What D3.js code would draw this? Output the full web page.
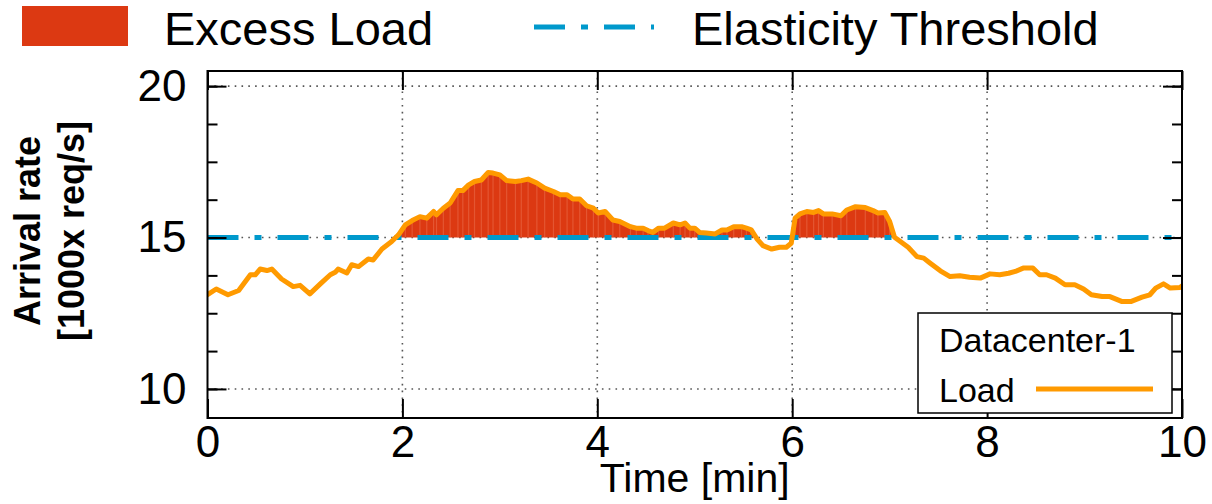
<!DOCTYPE html>
<html>
<head>
<meta charset="utf-8">
<script src="https://cdn.jsdelivr.net/npm/d3@7"></script>
<style>
  html, body { margin: 0; padding: 0; background: #fff; }
  svg { display: block; font-family: "Liberation Sans", Arial, sans-serif; }
</style>
</head>
<body>
<script>
// time in minutes and arrival rate (1000x req/s)
const time = [0, 0.09, 0.21, 0.32, 0.44, 0.49, 0.54, 0.61, 0.66, 0.76,
  0.88, 0.95, 1.05, 1.155, 1.26, 1.31, 1.34, 1.43, 1.48, 1.55,
  1.65, 1.70, 1.79, 1.89, 1.96, 2.03, 2.10, 2.18, 2.25, 2.32,
  2.35, 2.42, 2.49, 2.57, 2.62, 2.68, 2.74, 2.81, 2.88, 2.93,
  3.00, 3.07, 3.16, 3.22, 3.29, 3.38, 3.46, 3.55, 3.62, 3.69,
  3.75, 3.82, 3.89, 3.96, 4.01, 4.08, 4.16, 4.23, 4.34, 4.40,
  4.47, 4.52, 4.57, 4.63, 4.69, 4.78, 4.85, 4.90, 4.95, 5.00,
  5.05, 5.12, 5.21, 5.28, 5.33, 5.40, 5.48, 5.53, 5.58, 5.64,
  5.70, 5.79, 5.87, 5.94, 5.99, 6.03, 6.08, 6.15, 6.22, 6.27,
  6.32, 6.41, 6.50, 6.56, 6.65, 6.75, 6.83, 6.88, 6.95, 7.00,
  7.05, 7.11, 7.19, 7.28, 7.35, 7.41, 7.52, 7.62, 7.72, 7.82,
  7.93, 8.03, 8.13, 8.22, 8.29, 8.37, 8.47, 8.54, 8.61, 8.70,
  8.80, 8.90, 8.99, 9.07, 9.18, 9.26, 9.38, 9.48, 9.59, 9.67,
  9.73, 9.81, 9.88, 9.98, 10.0];
const load = [13.11, 13.30, 13.11, 13.25, 13.77, 13.77, 13.96, 13.91, 13.96, 13.63,
  13.38, 13.42, 13.14, 13.46, 13.77, 13.85, 13.96, 13.83, 14.10, 14.04,
  14.29, 14.26, 14.62, 14.87, 15.09, 15.42, 15.56, 15.69, 15.64, 15.86,
  15.75, 15.97, 16.14, 16.55, 16.55, 16.74, 16.85, 16.90, 17.15, 17.13,
  17.07, 16.88, 16.85, 16.88, 16.93, 16.80, 16.63, 16.52, 16.41, 16.41,
  16.27, 16.27, 16.05, 15.97, 15.81, 15.86, 15.58, 15.53, 15.36, 15.31,
  15.31, 15.23, 15.17, 15.31, 15.31, 15.48, 15.42, 15.48, 15.31, 15.31,
  15.17, 15.15, 15.12, 15.25, 15.25, 15.36, 15.36, 15.31, 15.25, 14.95,
  14.73, 14.62, 14.68, 14.68, 14.81, 15.64, 15.78, 15.86, 15.83, 15.89,
  15.78, 15.78, 15.72, 15.91, 16.02, 15.99, 15.89, 15.81, 15.83, 15.53,
  15.01, 14.87, 14.68, 14.37, 14.32, 14.17, 13.90, 13.71, 13.74, 13.69,
  13.66, 13.80, 13.77, 13.82, 13.88, 13.99, 13.99, 13.77, 13.77, 13.66,
  13.44, 13.44, 13.30, 13.11, 13.05, 13.05, 12.89, 12.89, 13.03, 13.11,
  13.33, 13.47, 13.33, 13.35, 13.40];
const threshold = 15;
const xTicks = [0, 2, 4, 6, 8, 10];
const yTicks = [10, 15, 20];
const yMinorTicks = [10, 11.25, 12.5, 13.75, 15, 16.25, 17.5, 18.75, 20];
const legendTop = ["Excess Load", "Elasticity Threshold"];
const keyTitle = "Datacenter-1";
const keyLabel = "Load";

const width = 1212, height = 504;
const margin = { top: 71, right: 30, bottom: 86, left: 207.5 };
const x = d3.scaleLinear().domain([0, 10]).range([margin.left, width - margin.right]);
const y = d3.scaleLinear().domain([9.04, 20.5]).range([height - margin.bottom, margin.top]);
const x0 = x.range()[0], x1 = x.range()[1], y0 = y.range()[1], y1 = y.range()[0];

const RED = "#dc3912", ORANGE = "#ff9a00", BLUE = "#0099cc";
const I = d3.range(time.length);

const svg = d3.select("body").append("svg")
  .attr("width", width).attr("height", height)
  .attr("viewBox", [0, 0, width, height]);

svg.append("defs").append("clipPath").attr("id", "plot")
  .append("rect").attr("x", x0).attr("y", y0).attr("width", x1 - x0).attr("height", y1 - y0);

// grid
const grid = svg.append("g").attr("stroke", "#555").attr("stroke-width", 1.6)
  .attr("stroke-dasharray", "1.6,5.2");
grid.selectAll(".gx").data(xTicks.slice(1, -1)).join("line")
  .attr("x1", d => x(d)).attr("x2", d => x(d)).attr("y1", y0).attr("y2", y1);
grid.selectAll(".gy").data(yTicks).join("line")
  .attr("x1", x0).attr("x2", x1).attr("y1", d => y(d)).attr("y2", d => y(d));

const plot = svg.append("g").attr("clip-path", "url(#plot)");

// excess load above the threshold
const excess = d3.area()
  .x(i => x(time[i]))
  .y0(y(threshold))
  .y1(i => y(Math.max(load[i], threshold)));
plot.append("path").attr("d", excess(I)).attr("fill", RED);
plot.append("g").selectAll("line").data(I.filter(i => load[i] > threshold)).join("line")
  .attr("x1", i => x(time[i])).attr("x2", i => x(time[i]))
  .attr("y1", y(threshold)).attr("y2", i => y(load[i]))
  .attr("stroke", "#ea6a48").attr("stroke-width", 1.2).attr("opacity", 0.6);

// threshold
plot.append("line")
  .attr("x1", x0).attr("x2", x1)
  .attr("y1", y(threshold)).attr("y2", y(threshold))
  .attr("stroke", BLUE).attr("stroke-width", 5)
  .attr("stroke-dasharray", "31,16,7,16");

// load line
const line = d3.line().x(i => x(time[i])).y(i => y(load[i]));
plot.append("path").attr("d", line(I))
  .attr("fill", "none").attr("stroke", ORANGE).attr("stroke-width", 5)
  .attr("stroke-linejoin", "round").attr("stroke-linecap", "round");

// axes
const fmt = d3.format("d");
svg.append("g").attr("transform", `translate(0,${y1})`)
  .call(d3.axisBottom(x).tickValues(xTicks).tickSize(-19).tickPadding(8).tickFormat(fmt));
svg.append("g").attr("transform", `translate(0,${y0})`)
  .call(d3.axisTop(x).tickValues(xTicks).tickSize(-19).tickFormat(""));
svg.append("g").attr("transform", `translate(${x0},0)`)
  .call(d3.axisLeft(y).tickValues(yTicks).tickSize(-19).tickPadding(21).tickFormat(fmt));
svg.append("g").attr("transform", `translate(${x0},0)`)
  .call(d3.axisLeft(y).tickValues(yMinorTicks).tickSize(-10).tickFormat(""));
svg.append("g").attr("transform", `translate(${x1},0)`)
  .call(d3.axisRight(y).tickValues(yTicks).tickSize(-19).tickFormat(""));
svg.append("g").attr("transform", `translate(${x1},0)`)
  .call(d3.axisRight(y).tickValues(yMinorTicks).tickSize(-10).tickFormat(""));
svg.selectAll(".domain").remove();
svg.selectAll(".tick line").attr("stroke", "#000").attr("stroke-width", 2);
svg.selectAll(".tick text").attr("fill", "#000")
  .style("font-family", "'Liberation Sans', Arial, sans-serif").style("font-size", "44px");

svg.append("rect").attr("x", x0).attr("y", y0).attr("width", x1 - x0).attr("height", y1 - y0)
  .attr("fill", "none").attr("stroke", "#000").attr("stroke-width", 2);

// axis titles
svg.append("text").attr("x", (x0 + x1) / 2).attr("y", 492).attr("text-anchor", "middle")
  .style("font-size", "41px").text("Time [min]");
const yt = svg.append("text").attr("transform", "translate(40,231) rotate(-90)")
  .attr("text-anchor", "middle").style("font-size", "36px").style("font-weight", "bold");
yt.append("tspan").attr("x", 0).attr("y", 0).text("Arrival rate");
yt.append("tspan").attr("x", 0).attr("y", 44).text("[1000x req/s]");

// key box
const key = svg.append("g");
key.append("rect").attr("x", 918).attr("y", 313).attr("width", 254).attr("height", 100)
  .attr("fill", "#fff").attr("stroke", "#000").attr("stroke-width", 1.5);
key.append("text").attr("x", 939).attr("y", 352).style("font-size", "34px").text(keyTitle);
key.append("text").attr("x", 939).attr("y", 402).style("font-size", "34px").text(keyLabel);
key.append("line").attr("x1", 1036).attr("x2", 1153).attr("y1", 389).attr("y2", 389)
  .attr("stroke", ORANGE).attr("stroke-width", 5);

// top legend
const lg = svg.append("g").style("font-size", "47px");
lg.append("rect").attr("x", 22).attr("y", 6).attr("width", 106).attr("height", 40).attr("fill", RED);
lg.append("text").attr("x", 164).attr("y", 45).text(legendTop[0]);
lg.append("line").attr("x1", 534).attr("x2", 654).attr("y1", 27).attr("y2", 27)
  .attr("stroke", BLUE).attr("stroke-width", 5).attr("stroke-dasharray", "31,16,7,16");
lg.append("text").attr("x", 692).attr("y", 45).text(legendTop[1]);
</script>
</body>
</html>
